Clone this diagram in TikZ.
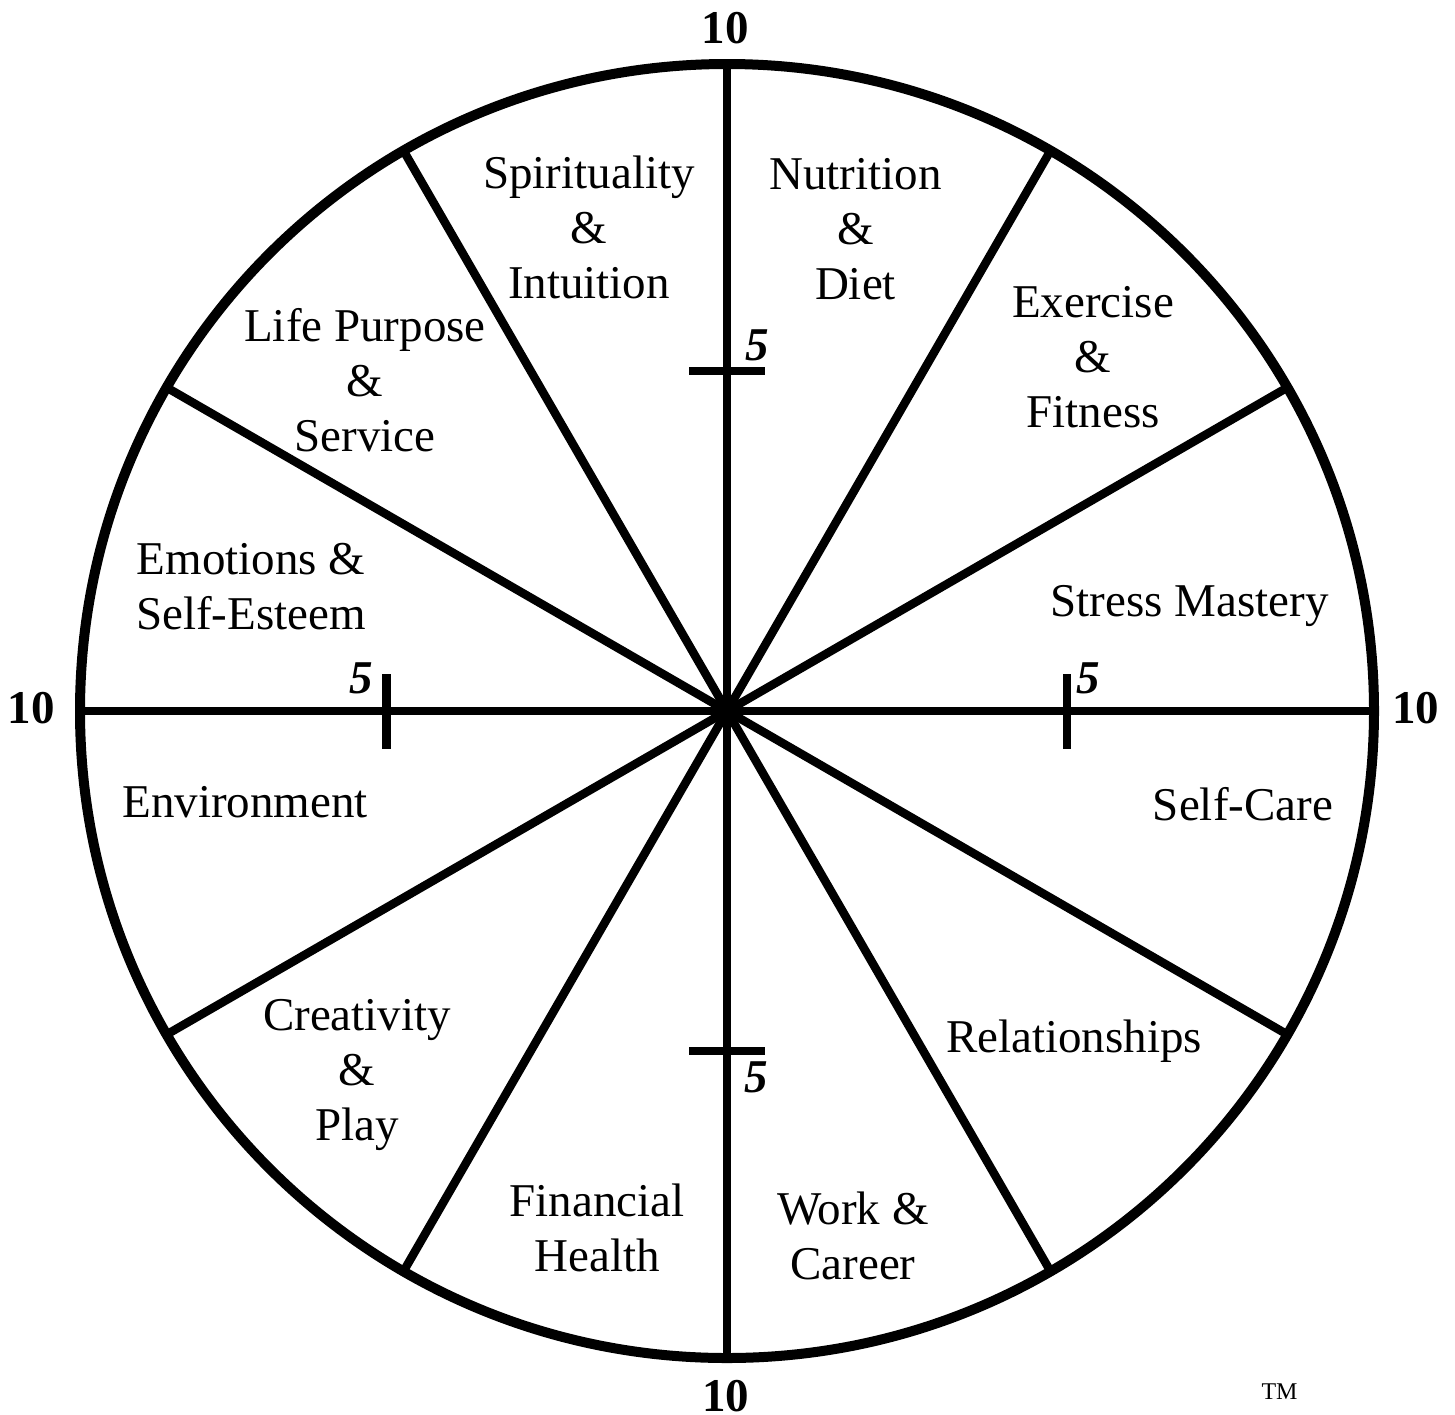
\documentclass[tikz,border=0pt]{standalone}
\usepackage{fontspec}
\setmainfont{Liberation Serif}
\begin{document}
\begin{tikzpicture}[x=1pt,y=-1pt,
  lbl/.style={font=\fontsize{47}{55}\selectfont, align=center, anchor=base, inner sep=0pt},
  num/.style={font=\fontsize{47}{55}\selectfont\bfseries, anchor=base, inner sep=0pt},
  half/.style={font=\fontsize{47}{55}\selectfont\bfseries\itshape, anchor=base, inner sep=0pt},
  tm/.style={font=\fontsize{24}{28}\selectfont, anchor=base, inner sep=0pt},
  spoke/.style={line width=8.5pt},
  rim/.style={line width=10pt},
  tickmark/.style={line width=8.5pt}]
\useasboundingbox (0,0) rectangle (1455,1414);
\coordinate (O) at (727,711);
% spokes
\foreach \a in {0,30,...,330}{
  \path (O) ++(\a:647pt) coordinate (e\a);
  \draw[spoke] (O) -- (e\a);
}
\fill (O) circle[radius=11pt];
% rim
\draw[rim] (O) circle[radius=647pt];
% ticks at 5
\coordinate (tt) at (727,371);
\coordinate (tb) at (727,1051);
\coordinate (tl) at (386.5,711);
\coordinate (tr) at (1067,711);
\draw[tickmark] ([xshift=-38pt]tt) -- ([xshift=38pt]tt);
\draw[tickmark] ([xshift=-38pt]tb) -- ([xshift=38pt]tb);
\draw[tickmark] ([yshift=-37.5pt]tl) -- ([yshift=37.5pt]tl);
\draw[tickmark] ([yshift=-37.5pt]tr) -- ([yshift=37.5pt]tr);
% numbers
\node[num] (n10t) at (725,43) {10};
\node[num] (n10b) at (725.5,1411) {10};
\node[num] (n10l) at (31.5,723) {10};
\node[num] (n10r) at (1415.5,723) {10};
\node[half] (n5t) at (757,360) {5};
\node[half] (n5b) at (756.5,1092) {5};
\node[half] (n5l) at (361.5,693) {5};
\node[half] (n5r) at (1088.5,693) {5};
% sector labels (base anchor = baseline of last line)
\node[lbl] (spi) at (589,298) {Spirituality\\\&\\Intuition};
\node[lbl] (nut) at (855.5,299) {Nutrition\\\&\\Diet};
\node[lbl] (exe) at (1093,427) {Exercise\\\&\\Fitness};
\node[lbl] (lif) at (365,451) {Life Purpose\\\&\\Service};
\node[lbl] (emo) at (251,629) {Emotions \&\\Self-Esteem};
\node[lbl] (str) at (1189.5,616) {Stress Mastery};
\node[lbl] (env) at (245,817) {Environment};
\node[lbl] (sca) at (1243,820) {Self-Care};
\node[lbl] (rel) at (1074,1052) {Relationships};
\node[lbl] (cre) at (357,1140) {Creativity\\\&\\Play};
\node[lbl] (fin) at (597,1271) {Financial\\Health};
\node[lbl] (wor) at (853,1279) {Work \&\\Career};
\node[tm] (tmk) at (1279.5,1399) {TM};
\end{tikzpicture}
\end{document}
